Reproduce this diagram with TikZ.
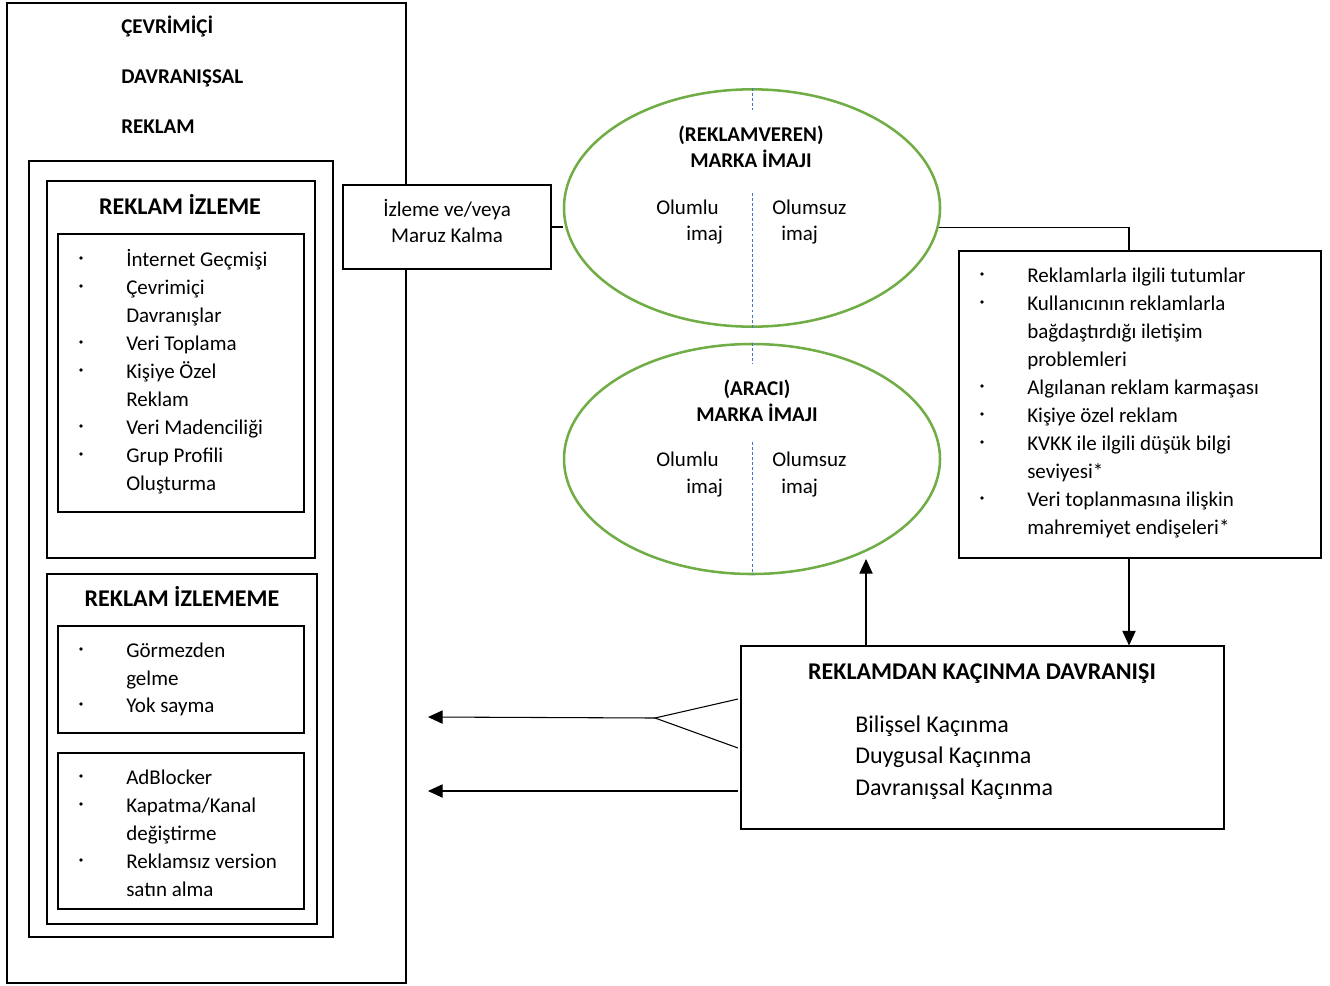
\documentclass[tikz,border=0pt]{standalone}
\usepackage{fontspec}
\setmainfont{Carlito}
\usetikzlibrary{positioning,arrows.meta,fit,shapes.geometric}
\definecolor{ellgreen}{HTML}{70AD47}
\definecolor{sepblue}{HTML}{4472C4}
\newcommand\fsn{\fontsize{15.75}{19.5}\selectfont}
\newcommand\fsb{\fontsize{18}{23.6}\selectfont}

\begin{document}
\begin{tikzpicture}[x=0.75pt,y=-0.75pt,
    box/.style={draw, line width=0.8pt, fill=white, inner sep=0pt},
    ell/.style={ellipse, draw=ellgreen, line width=1.9pt, inner sep=0pt, minimum width=282pt},
    sepline/.style={sepblue, line width=0.6pt, dash pattern=on 2.2pt off 1.6pt},
    itm/.style={anchor=base west, inner sep=0pt, font=\fsn},
    hd/.style={anchor=base, inner sep=0pt, font=\fsn\bfseries},
    bighd/.style={anchor=base, inner sep=0pt, font=\fsb\bfseries},
    ln/.style={line width=0.8pt},
    arr/.style={-{Triangle[length=11pt,width=10pt]}, line width=0.8pt},
]
\useasboundingbox (0,0) rectangle (1330,985);
% --- left column: online behavioural advertising ---
\node[box, fit={(7,3) (406,983)}] (outer) {};
\node[itm, font=\fsn\bfseries] (h1) at (121,33) {ÇEVRİMİÇİ};
\node[itm, font=\fsn\bfseries] (h2) at (121,83) {DAVRANIŞSAL};
\node[itm, font=\fsn\bfseries] (h3) at (121,133) {REKLAM};
\node[box, fit={(29,161) (333,937)}] (frame) {};
\node[box, fit={(47,181) (315,558)}] (izBox) {};
\node[bighd] (izHd) at (180,214) {REKLAM İZLEME};
\node[box, fit={(58,234) (304,512)}] (izList) {};
\foreach \yy/\lbl/\bb in {266/İnternet Geçmişi/1, 294/Çevrimiçi/1, 322/Davranışlar/0,
    350/Veri Toplama/1, 378/Kişiye Özel/1, 406/Reklam/0, 434/Veri Madenciliği/1,
    462/Grup Profili/1, 490/Oluşturma/0}{
  \node[itm] (iz\yy) at (126,\yy) {\lbl};
  \ifnum\bb=1 \fill (81,\yy-8) circle (1.4pt);\fi
}
\node[box, fit={(47,574) (317,924)}] (nzBox) {};
\node[bighd] (nzHd) at (182,606) {REKLAM İZLEMEME};
\node[box, fit={(58,626) (304,733)}] (nzListA) {};
\node[box, fit={(58,753) (304,909)}] (nzListB) {};
\foreach \yy/\lbl/\bb in {657/Görmezden/1, 685/gelme/0, 712/Yok sayma/1,
    784/AdBlocker/1, 812/Kapatma\slash Kanal/1, 840/değiştirme/0,
    868/Reklamsız version/1, 896/satın alma/0}{
  \node[itm] (nz\yy) at (126,\yy) {\lbl};
  \ifnum\bb=1 \fill (81,\yy-8) circle (1.4pt);\fi
}
% --- exposure box ---
\node[box, minimum width=156pt, minimum height=63pt] (izl) at (447,227) {};
\node[align=center, font=\fsn, inner sep=0pt] (izlTxt) at (447,221) {İzleme ve/veya\\Maruz Kalma};
% --- brand image ellipses ---
\node[ell, minimum height=178pt] (ellV) at (752,208) {};
\draw[sepline] (ellV.north) -- (752,110);
\draw[sepline] (752,193) -- (ellV.south);
\node[hd] (vHd1) at (751,141) {(REKLAMVEREN)};
\node[hd] (vHd2) at (751,167) {MARKA İMAJI};
\node[itm] (vPos) at (656,214) {Olumlu};
\node[itm] (vPosB) at (686,240) {imaj};
\node[itm] (vNeg) at (772,214) {Olumsuz};
\node[itm] (vNegB) at (781,240) {imaj};
\node[ell, minimum height=172.5pt] (ellA) at (752,459) {};
\draw[sepline] (ellA.north) -- (752,364);
\draw[sepline] (752,442) -- (ellA.south);
\node[hd] (aHd1) at (757,395) {(ARACI)};
\node[hd] (aHd2) at (757,421) {MARKA İMAJI};
\node[itm] (aPos) at (656,466) {Olumlu};
\node[itm] (aPosB) at (686,493) {imaj};
\node[itm] (aNeg) at (772,466) {Olumsuz};
\node[itm] (aNegB) at (781,493) {imaj};
% --- factors box ---
\node[box, fit={(959,251) (1321,558)}] (tutum) {};
\foreach \yy/\lbl/\bb in {282/Reklamlarla ilgili tutumlar/1, 310/Kullanıcının reklamlarla/1,
    338/bağdaştırdığı iletişim/0, 366/problemleri/0, 394/Algılanan reklam karmaşası/1,
    422/Kişiye özel reklam/1, 450/KVKK ile ilgili düşük bilgi/1, 478/seviyesi*/0,
    506/Veri toplanmasına ilişkin/1, 534/mahremiyet endişeleri*/0}{
  \node[itm] (tt\yy) at (1027,\yy) {\lbl};
  \ifnum\bb=1 \fill (982,\yy-8) circle (1.4pt);\fi
}
% --- avoidance box ---
\node[box, fit={(741,646) (1224,829)}] (kac) {};
\node[bighd] (kacHd) at (982,679) {REKLAMDAN KAÇINMA DAVRANIŞI};
\node[itm, font=\fsb] (kac1) at (855,732) {Bilişsel Kaçınma};
\node[itm, font=\fsb] (kac2) at (855,763) {Duygusal Kaçınma};
\node[itm, font=\fsb] (kac3) at (855,795) {Davranışsal Kaçınma};
% --- connectors ---
\coordinate (tTop) at (1129,251);
\coordinate (tBot) at (1129,558);
\coordinate (upFoot) at (866,646);
\coordinate (upTip) at (866,559);
\coordinate (forkA) at (738,699);
\coordinate (forkB) at (738,748);
\coordinate (fork) at (655,718);
\coordinate (tipA) at (428,717);
\coordinate (lowEnd) at (738,791);
\coordinate (tipB) at (428,791);
\draw[ln] (izl.east) -- (izl.east -| ellV.west);
\draw[ln] (ellV.354) -| (tTop);
\draw[arr] (tBot) -- (tBot |- kac.north);
\draw[arr] (upFoot) -- (upTip);
\draw[ln] (forkA) -- (fork) -- (forkB);
\draw[arr] (fork) -- (tipA);
\draw[arr] (lowEnd) -- (tipB);
\end{tikzpicture}
\end{document}
